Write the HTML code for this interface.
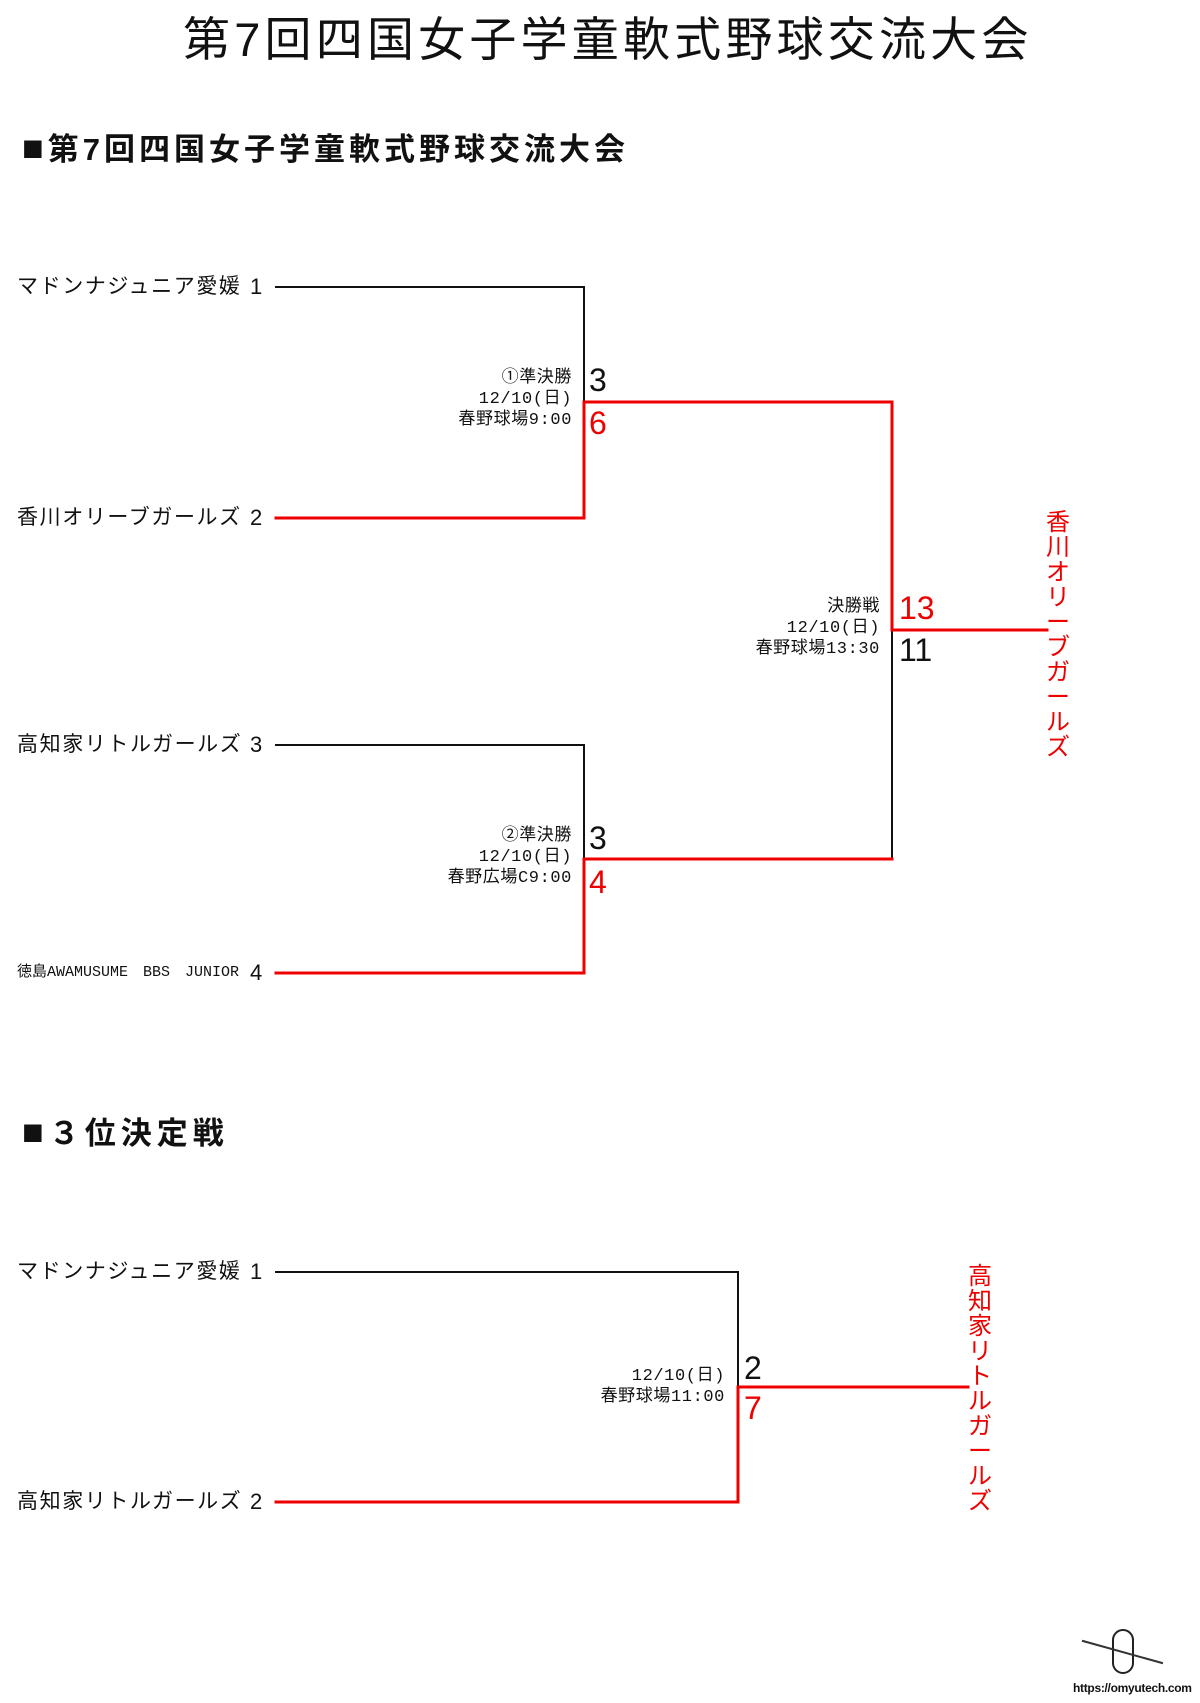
<!DOCTYPE html>
<html><head><meta charset="utf-8"><style>
html,body{margin:0;padding:0;background:#fff;}
body{width:1200px;height:1703px;position:relative;overflow:hidden;font-family:"Liberation Sans","Noto Sans CJK JP",sans-serif;color:#111;}
.t{position:absolute;white-space:nowrap;}
.team{font-size:21px;line-height:24px;left:17px;letter-spacing:1.6px;}
.num{font-size:22px;line-height:24px;}
.lab{font-family:"Liberation Mono","Noto Sans CJK JP",monospace;font-size:17px;line-height:21px;text-align:right;letter-spacing:0.6px;}
.sc{font-size:32px;line-height:36px;}
.red{color:#e00;}
.vert{font-size:24px;line-height:25px;width:26px;text-align:center;color:#e00;}
</style></head><body>
<div class="t" style="left:183px;top:12px;font-size:47px;line-height:56px;letter-spacing:4.2px;">第7回四国女子学童軟式野球交流大会</div>
<div class="t" style="left:22px;top:128px;font-size:31px;line-height:40px;font-weight:bold;letter-spacing:4px;"><span style="font-size:36px;">■</span>第7回四国女子学童軟式野球交流大会</div>
<div class="t" style="left:22px;top:1112px;font-size:31px;line-height:40px;font-weight:bold;letter-spacing:5px;"><span style="font-size:36px;">■</span>３位決定戦</div>

<svg width="1200" height="1703" style="position:absolute;left:0;top:0">
<g fill="none" stroke-linecap="square">
<polyline points="276,287 584,287 584,402" stroke="#111" stroke-width="2"/>
<polyline points="276,518 584,518 584,402 892,402 892,630" stroke="#e00" stroke-width="3"/>
<polyline points="276,745 584,745 584,859" stroke="#111" stroke-width="2"/>
<polyline points="276,973 584,973 584,859" stroke="#e00" stroke-width="3"/>
<polyline points="584,859 892,859 892,630" stroke="#111" stroke-width="2"/>
<polyline points="584,859 892,859" stroke="#e00" stroke-width="3"/>
<polyline points="892,630 1047,630" stroke="#e00" stroke-width="3"/>
<polyline points="276,1272 738,1272 738,1387" stroke="#111" stroke-width="2"/>
<polyline points="276,1502 738,1502 738,1387 968,1387" stroke="#e00" stroke-width="3"/>
<rect x="1113" y="1630" width="20" height="43" rx="10" stroke="#222" stroke-width="2"/>
<line x1="1083" y1="1641" x2="1162" y2="1663" stroke="#333" stroke-width="2"/>
</g>
</svg>

<div class="t team" style="top:275px;">マドンナジュニア愛媛</div><div class="t num" style="left:250px;top:275px;">1</div>
<div class="t team" style="top:506px;">香川オリーブガールズ</div><div class="t num" style="left:250px;top:506px;">2</div>
<div class="t team" style="top:733px;">高知家リトルガールズ</div><div class="t num" style="left:250px;top:733px;">3</div>
<div class="t" style="left:17px;top:962px;font-size:15px;line-height:22px;font-family:'Liberation Mono','Noto Sans CJK JP',monospace;">徳島AWAMUSUME　BBS　JUNIOR</div><div class="t num" style="left:250px;top:961px;">4</div>

<div class="t lab" style="right:628px;top:368px;">①準決勝<br>12/10(日)<br>春野球場9:00</div>
<div class="t sc" style="left:589px;top:362px;">3</div>
<div class="t sc red" style="left:589px;top:405px;">6</div>

<div class="t lab" style="right:628px;top:826px;">②準決勝<br>12/10(日)<br>春野広場C9:00</div>
<div class="t sc" style="left:589px;top:820px;">3</div>
<div class="t sc red" style="left:589px;top:864px;">4</div>

<div class="t lab" style="right:320px;top:597px;">決勝戦<br>12/10(日)<br>春野球場13:30</div>
<div class="t sc red" style="left:899px;top:590px;">13</div>
<div class="t sc" style="left:899px;top:632px;">11</div>

<div class="t vert" style="left:1045px;top:510px;">香<br>川<br>オ<br>リ<br>ー<br>ブ<br>ガ<br>ー<br>ル<br>ズ</div>

<div class="t team" style="top:1260px;">マドンナジュニア愛媛</div><div class="t num" style="left:250px;top:1260px;">1</div>
<div class="t team" style="top:1490px;">高知家リトルガールズ</div><div class="t num" style="left:250px;top:1490px;">2</div>
<div class="t lab" style="right:475px;top:1366px;">12/10(日)<br>春野球場11:00</div>
<div class="t sc" style="left:744px;top:1350px;">2</div>
<div class="t sc red" style="left:744px;top:1390px;">7</div>
<div class="t vert" style="left:967px;top:1264px;">高<br>知<br>家<br>リ<br>ト<br>ル<br>ガ<br>ー<br>ル<br>ズ</div>

<div class="t" style="left:1073px;top:1680px;font-size:12px;line-height:16px;font-weight:bold;letter-spacing:-0.3px;">https://omyutech.com</div>
</body></html>
